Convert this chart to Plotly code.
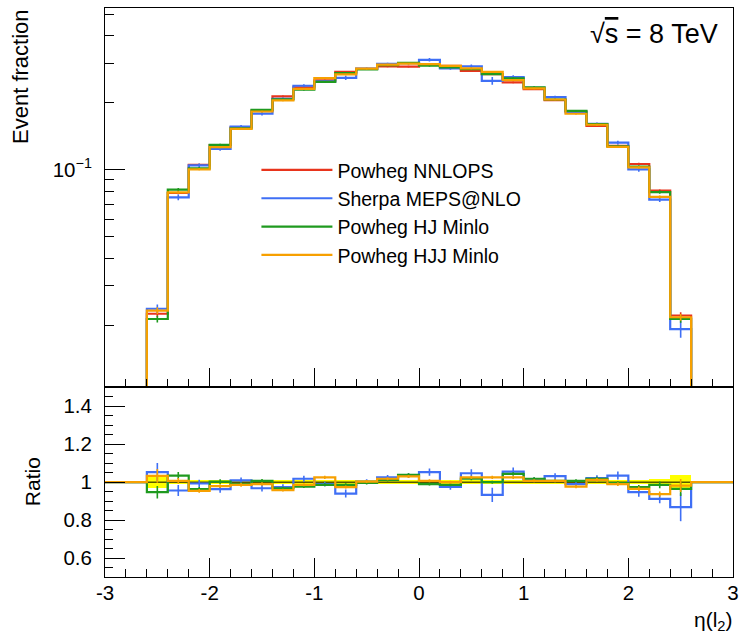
import plotly.graph_objects as go
import math

# ---------------- data ----------------
BIN_EDGES = [-2.6, -2.4, -2.2, -2.0, -1.8, -1.6, -1.4, -1.2, -1.0, -0.8, -0.6, -0.4, -0.2, 0.0,
             0.2, 0.4, 0.6, 0.8, 1.0, 1.2, 1.4, 1.6, 1.8, 2.0, 2.2, 2.4, 2.6]
X_RANGE = [-3.0, 3.0]

nnlops = [0.0225, 0.0786, 0.1053, 0.129, 0.155, 0.1846, 0.214, 0.2345, 0.2522, 0.2756, 0.2842,
          0.292, 0.2912, 0.2966, 0.293, 0.2785, 0.269, 0.247, 0.2305, 0.2055, 0.1828, 0.1575,
          0.128, 0.1061, 0.0805, 0.0221]
nnlops_err = [0.035, 0.012, 0.011, 0.01, 0.01, 0.01, 0.009, 0.009, 0.009, 0.009, 0.009, 0.009, 0.009,
              0.009, 0.009, 0.009, 0.009, 0.009, 0.009, 0.009, 0.01, 0.011, 0.012, 0.012, 0.013, 0.035]

ratio_sherpa = [1.053, 0.956, 0.993, 0.963, 1.009, 0.968, 0.974, 1.018, 0.99, 0.94, 1.003, 1.025,
                1.035, 1.053, 0.975, 1.047, 0.933, 1.056, 1.014, 1.032, 0.99, 1.021, 1.035, 0.947,
                0.912, 0.868]
err_sherpa = [0.045, 0.03, 0.02, 0.02, 0.015, 0.018, 0.015, 0.015, 0.012, 0.022, 0.012, 0.012, 0.012,
              0.018, 0.015, 0.02, 0.04, 0.02, 0.012, 0.015, 0.015, 0.015, 0.02, 0.025, 0.025, 0.085]

ratio_hj = [0.947, 1.035, 0.963, 1.003, 0.99, 1.007, 0.968, 0.977, 0.986, 0.986, 0.996, 1.012,
            1.039, 0.99, 0.986, 1.018, 1.0, 1.044, 1.018, 1.007, 1.007, 1.018, 0.995, 0.974,
            0.986, 0.965]
err_hj = [0.035, 0.018, 0.012, 0.012, 0.01, 0.01, 0.008, 0.008, 0.008, 0.008, 0.008, 0.008, 0.008,
          0.008, 0.008, 0.008, 0.008, 0.008, 0.008, 0.008, 0.008, 0.01, 0.01, 0.012, 0.018, 0.04]

ratio_hjj = [1.033, 1.007, 0.954, 0.979, 0.986, 0.99, 0.958, 0.986, 1.025, 0.974, 1.003, 1.018,
             1.03, 1.007, 1.0, 1.025, 1.025, 1.025, 1.007, 1.007, 0.977, 1.012, 0.99, 0.965,
             0.937, 0.982]
err_hjj = [0.035, 0.015, 0.01, 0.01, 0.01, 0.009, 0.008, 0.008, 0.008, 0.008, 0.008, 0.008, 0.008,
           0.008, 0.008, 0.008, 0.008, 0.008, 0.008, 0.008, 0.009, 0.01, 0.01, 0.012, 0.015, 0.035]

LABELS = ["Powheg NNLOPS", "Sherpa MEPS@NLO", "Powheg HJ Minlo", "Powheg HJJ Minlo"]
COLORS = ["#e8341c", "#3f6ff5", "#1f9a1f", "#f7a000"]

YTOP_RANGE = [0.0105, 0.534]
YTOP_MINOR = [0.02, 0.03, 0.04, 0.05, 0.06, 0.07, 0.08, 0.09, 0.2, 0.3, 0.4, 0.5]
YRAT_TICKS = [0.6, 0.8, 1.0, 1.2, 1.4]
YRAT_TEXT = ["0.6", "0.8", "1", "1.2", "1.4"]
XTICKS = [-3, -2, -1, 0, 1, 2, 3]
XTICK_TEXT = ["-3", "-2", "-1", "0", "1", "2", "3"]

# ---------------- build ----------------
centers = [(BIN_EDGES[i] + BIN_EDGES[i + 1]) / 2 for i in range(len(BIN_EDGES) - 1)]
FLOOR = YTOP_RANGE[0] / 10.0

series = [
    (nnlops, [1.0] * len(nnlops), nnlops_err),
    ([a * b for a, b in zip(nnlops, ratio_sherpa)], ratio_sherpa, err_sherpa),
    ([a * b for a, b in zip(nnlops, ratio_hj)], ratio_hj, err_hj),
    ([a * b for a, b in zip(nnlops, ratio_hjj)], ratio_hjj, err_hjj),
]

FONT = "Liberation Sans, Arial, Helvetica, sans-serif"
TICKSIZE = 20.5
fig = go.Figure()

xs_full = [X_RANGE[0]] + BIN_EDGES + [X_RANGE[1]]

for k, (vals, rat, err) in enumerate(series):
    col = COLORS[k]
    ys = [FLOOR] + vals + [FLOOR, FLOOR]
    fig.add_trace(go.Scatter(x=xs_full, y=ys, mode="lines", line=dict(color=col, width=2.2, shape="hv"),
                             name=LABELS[k], legendgroup=LABELS[k], xaxis="x", yaxis="y"))
    fig.add_trace(go.Scatter(x=centers, y=vals, mode="markers", marker=dict(size=1, color=col),
                             error_y=dict(type="data", array=[v * e for v, e in zip(vals, err)],
                                          color=col, thickness=1.6, width=0),
                             showlegend=False, legendgroup=LABELS[k], hoverinfo="skip",
                             xaxis="x", yaxis="y"))

# ratio panel: NNLOPS uncertainty band
fig.add_trace(go.Bar(x=centers, y=[2 * e for e in nnlops_err], base=[1 - e for e in nnlops_err],
                     width=0.2, marker=dict(color="#ffff00", line=dict(width=0)),
                     showlegend=False, hoverinfo="skip", xaxis="x2", yaxis="y2"))
fig.add_trace(go.Scatter(x=X_RANGE, y=[1, 1], mode="lines", line=dict(color="black", width=1),
                         showlegend=False, hoverinfo="skip", xaxis="x2", yaxis="y2"))

for k in range(1, 4):
    vals, rat, err = series[k]
    col = COLORS[k]
    ys = [1.0] + rat + [1.0, 1.0]
    fig.add_trace(go.Scatter(x=xs_full, y=ys, mode="lines", line=dict(color=col, width=2.2, shape="hv"),
                             showlegend=False, hoverinfo="skip", xaxis="x2", yaxis="y2"))
    fig.add_trace(go.Scatter(x=centers, y=rat, mode="markers", marker=dict(size=1, color=col),
                             error_y=dict(type="data", array=[r * e for r, e in zip(rat, err)],
                                          color=col, thickness=1.6, width=0),
                             showlegend=False, hoverinfo="skip", xaxis="x2", yaxis="y2"))

L, R, T, B = 104.5, 9, 7, 59
W, H = 746, 636
ph = H - T - B
split = 190.0 / ph

axis_common = dict(showline=True, linecolor="black", linewidth=1, mirror=True, ticks="inside",
                   tickcolor="black", showgrid=False, zeroline=False,
                   tickfont=dict(family=FONT, size=TICKSIZE, color="black"))

fig.update_layout(
    width=W, height=H, margin=dict(l=L, r=R, t=T, b=B),
    paper_bgcolor="white", plot_bgcolor="white", barmode="overlay", bargap=0,
    font=dict(family=FONT, size=17, color="black"),
    xaxis=dict(domain=[0, 1], anchor="y", range=X_RANGE, tickvals=XTICKS, ticklen=19,
               showticklabels=False, minor=dict(dtick=0.2, tick0=-3, ticks="inside", ticklen=8,
                                                tickcolor="black"),
               **axis_common),
    yaxis=dict(domain=[split, 1], anchor="x", type="log",
               range=[math.log10(YTOP_RANGE[0]), math.log10(YTOP_RANGE[1])],
               tickvals=[0.1], ticktext=["10<sup>\u22121</sup>"], ticklen=20, ticklabelstandoff=8,
               minor=dict(tickvals=YTOP_MINOR, ticks="inside", ticklen=9, tickcolor="black"),
               **axis_common),
    xaxis2=dict(domain=[0, 1], anchor="y2", range=X_RANGE, tickvals=XTICKS, ticktext=XTICK_TEXT,
                ticklen=19, ticklabelstandoff=-3,
                minor=dict(dtick=0.2, tick0=-3, ticks="inside", ticklen=8, tickcolor="black"),
                **axis_common),
    yaxis2=dict(domain=[0, split], anchor="x2", range=[0.5, 1.5], tickvals=YRAT_TICKS,
                ticktext=YRAT_TEXT, ticklen=20, ticklabelstandoff=8,
                minor=dict(dtick=0.05, tick0=0.5, ticks="inside", ticklen=8, tickcolor="black"),
                **axis_common),
    legend=dict(x=(257 - L) / (W - L - R), y=(H - B - 150) / ph, xanchor="left", yanchor="top",
                bgcolor="rgba(0,0,0,0)", font=dict(family=FONT, size=19.5, color="black"),
                tracegroupgap=0, itemwidth=71, traceorder="grouped"),
    showlegend=True,
)

def px_x(p):
    return (p - L) / (W - L - R)

def px_y(p):
    return (H - B - p) / ph

fig.add_annotation(xref="paper", yref="paper", x=px_x(724), y=px_y(33), xanchor="right",
                   yanchor="middle", showarrow=False,
                   text="\u221a<span style='text-decoration:overline'>s</span> = 8 TeV",
                   font=dict(family=FONT, size=27, color="black"))
fig.add_annotation(xref="paper", yref="paper", x=px_x(20), y=px_y(76), xanchor="center",
                   yanchor="middle", showarrow=False, textangle=-90, text="Event fraction",
                   font=dict(family=FONT, size=22, color="black"))
fig.add_annotation(xref="paper", yref="paper", x=px_x(31), y=px_y(482), xanchor="center",
                   yanchor="middle", showarrow=False, textangle=-90, text="Ratio",
                   font=dict(family=FONT, size=21, color="black"))
fig.add_annotation(xref="paper", yref="paper", x=px_x(739), y=px_y(621), xanchor="right",
                   yanchor="middle", showarrow=False, text="\u03b7(l<sub>2</sub>)",
                   font=dict(family=FONT, size=21, color="black"))
fig.add_annotation(xref="paper", yref="paper", x=px_x(730), y=px_y(4), xanchor="right",
                   yanchor="bottom", showarrow=False, text="\u03b7(l<sub>2</sub>)",
                   font=dict(family=FONT, size=21, color="black"))

fig.write_html("out.html")
